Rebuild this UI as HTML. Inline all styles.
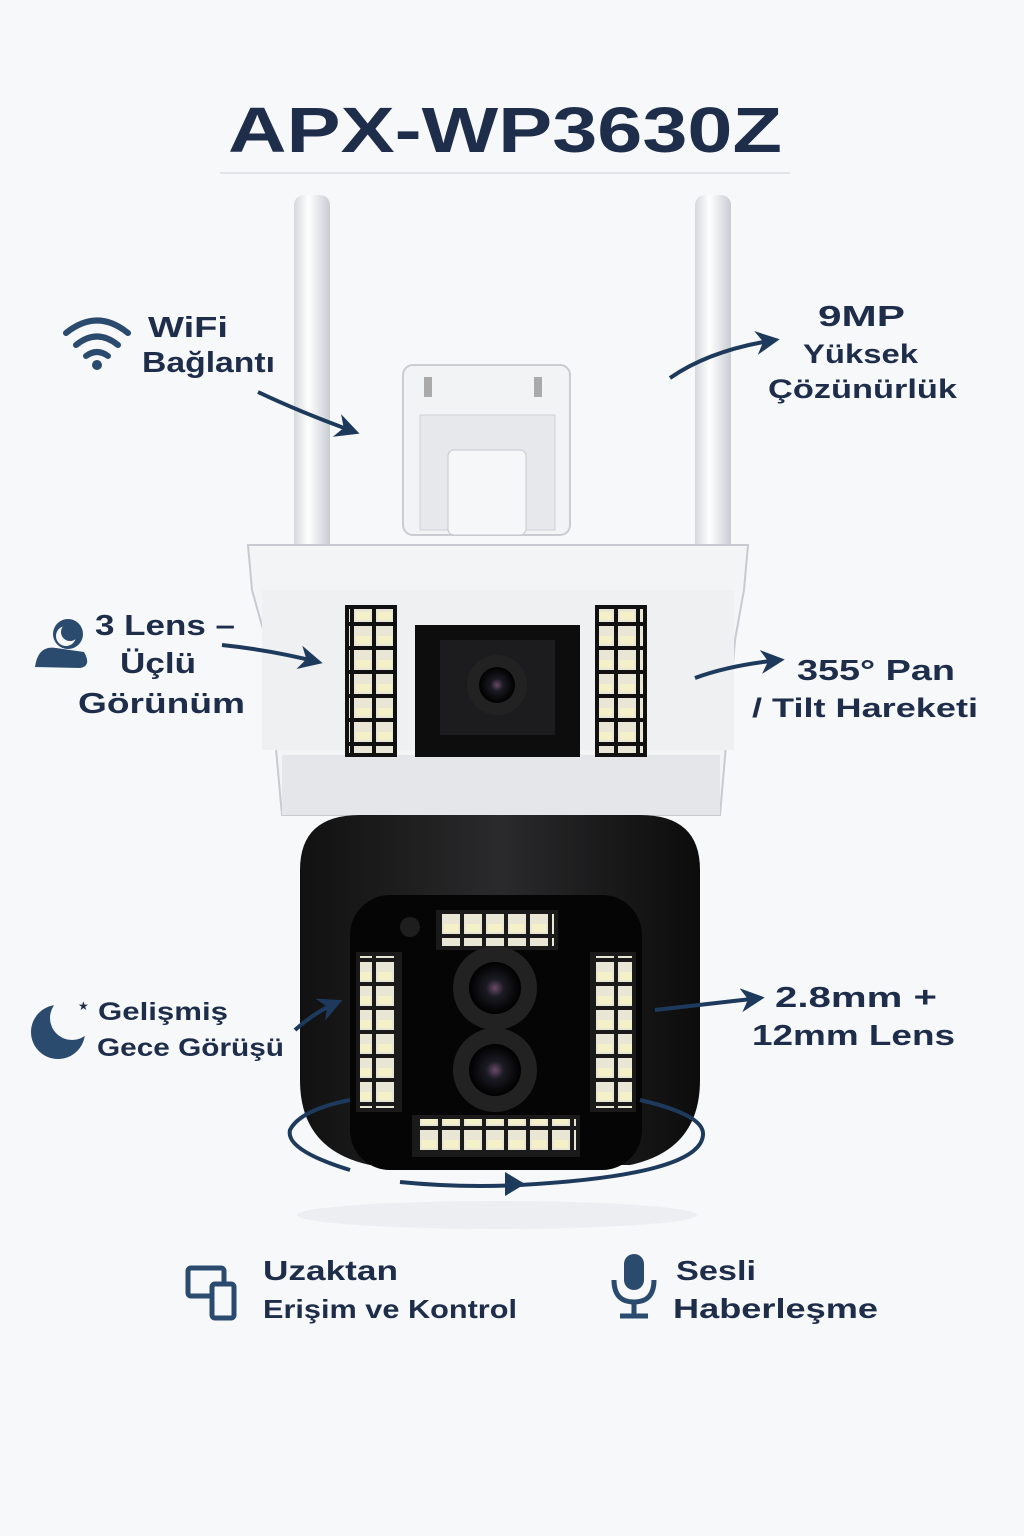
<!DOCTYPE html>
<html><head><meta charset="utf-8"><style>
html,body{margin:0;padding:0;background:#f7f8fa}
svg{display:block}
text{font-family:"Liberation Sans","DejaVu Sans",sans-serif;font-weight:bold;fill:#1d2d4a}
</style></head><body>
<svg width="1024" height="1536" viewBox="0 0 1024 1536" xmlns="http://www.w3.org/2000/svg">
<defs>
<linearGradient id="ant" x1="0" x2="1"><stop offset="0" stop-color="#d5d8dd"/><stop offset=".4" stop-color="#ffffff"/><stop offset="1" stop-color="#c8ccd2"/></linearGradient>
<linearGradient id="dome" x1="0" x2="1"><stop offset="0" stop-color="#111"/><stop offset=".5" stop-color="#2a2a2c"/><stop offset="1" stop-color="#0c0c0c"/></linearGradient>
<radialGradient id="lens"><stop offset="0" stop-color="#6a4a6a"/><stop offset=".35" stop-color="#1a1a22"/><stop offset="1" stop-color="#000"/></radialGradient>
<marker id="ah" viewBox="0 0 10 10" refX="8" refY="5" markerWidth="6" markerHeight="6" orient="auto"><path d="M0,0 L10,5 L0,10 L3,5z" fill="#1d3a5c"/></marker>
<pattern id="led" width="22" height="24" patternUnits="userSpaceOnUse"><rect x="2" y="2" width="18" height="20" fill="#e9e6d6"/><rect x="4" y="12" width="14" height="8" fill="#f4f0c8"/></pattern>
<mask id="moon"><rect width="1024" height="1536" fill="#fff"/><circle cx="72" cy="1018" r="22" fill="#000"/></mask>
</defs>
<rect width="1024" height="1536" fill="#f7f8fa"/>
<text x="228" y="152" font-size="64" textLength="554" lengthAdjust="spacingAndGlyphs">APX-WP3630Z</text>
<line x1="220" y1="173" x2="790" y2="173" stroke="#e2e4e8" stroke-width="2"/>

<rect x="294" y="195" width="36" height="380" rx="10" fill="url(#ant)"/>
<rect x="695" y="195" width="36" height="380" rx="10" fill="url(#ant)"/>
<rect x="403" y="365" width="167" height="170" rx="10" fill="#f2f3f5" stroke="#c9ccd1" stroke-width="2"/>
<rect x="420" y="415" width="135" height="115" fill="#e6e8eb" stroke="#cfd2d6"/>
<rect x="448" y="450" width="78" height="85" rx="6" fill="#f6f7f8" stroke="#c4c7cc"/>
<rect x="424" y="377" width="8" height="20" fill="#aaa"/><rect x="534" y="377" width="8" height="20" fill="#aaa"/>

<path d="M248 545 L748 545 L744 590 L735 640 L720 815 L282 815 L266 640 L252 590 Z" fill="#f3f4f6" stroke="#c7cad0" stroke-width="2"/>
<rect x="262" y="590" width="472" height="160" fill="#eef0f2"/>
<rect x="282" y="755" width="438" height="60" fill="#e4e6ea"/>
<rect x="345" y="605" width="52" height="152" fill="#111"/>
<rect x="349" y="609" width="44" height="144" fill="url(#led)"/>
<rect x="595" y="605" width="52" height="152" fill="#111"/>
<rect x="599" y="609" width="44" height="144" fill="url(#led)"/>
<rect x="415" y="625" width="165" height="132" fill="#0d0d0d"/>
<rect x="440" y="640" width="115" height="95" fill="#1c1c1f"/>
<circle cx="497" cy="685" r="30" fill="#222"/>
<circle cx="497" cy="685" r="18" fill="url(#lens)"/>

<path d="M300 870 Q300 815 360 815 L640 815 Q700 815 700 870 L700 1080 Q700 1150 630 1165 L370 1165 Q300 1150 300 1080 Z" fill="url(#dome)"/>
<rect x="350" y="895" width="292" height="275" rx="40" fill="#050505"/>
<rect x="436" y="910" width="122" height="40" fill="#1a1a1a"/><rect x="440" y="914" width="114" height="32" fill="url(#led)"/>
<rect x="356" y="952" width="46" height="160" fill="#1a1a1a"/><rect x="360" y="956" width="38" height="152" fill="url(#led)"/>
<rect x="590" y="952" width="46" height="160" fill="#1a1a1a"/><rect x="594" y="956" width="38" height="152" fill="url(#led)"/>
<rect x="412" y="1115" width="168" height="42" fill="#1a1a1a"/><rect x="416" y="1119" width="160" height="34" fill="url(#led)"/>
<circle cx="495" cy="988" r="42" fill="#222"/><circle cx="495" cy="988" r="26" fill="url(#lens)"/>
<circle cx="495" cy="1070" r="42" fill="#222"/><circle cx="495" cy="1070" r="26" fill="url(#lens)"/>
<circle cx="410" cy="927" r="10" fill="#1e1e1e"/>
<path d="M350 1170 Q285 1150 290 1130 Q300 1110 350 1100" fill="none" stroke="#1d3a5c" stroke-width="4"/>
<path d="M640 1100 Q705 1115 703 1135 Q700 1175 520 1185 Q460 1188 400 1182" fill="none" stroke="#1d3a5c" stroke-width="4"/>
<path d="M505 1172 L525 1184 L505 1196 Z" fill="#1d3a5c"/>
<ellipse cx="497" cy="1215" rx="200" ry="14" fill="#e6e8ec" opacity=".6"/>

<g fill="none" stroke="#2a4a6e" stroke-width="6" stroke-linecap="round">
<path d="M66 333 Q97 308 128 333"/><path d="M76 345 Q97 328 118 345"/><path d="M86 356 Q97 348 108 356"/></g>
<circle cx="97" cy="365" r="5" fill="#2a4a6e"/>
<text x="148" y="337" font-size="29" textLength="80" lengthAdjust="spacingAndGlyphs">WiFi</text>
<text x="142" y="372" font-size="29" textLength="133" lengthAdjust="spacingAndGlyphs">Bağlantı</text>
<path d="M258 392 Q300 412 355 432" fill="none" stroke="#1d3a5c" stroke-width="4" marker-end="url(#ah)"/>

<text x="818" y="326" font-size="29" textLength="87" lengthAdjust="spacingAndGlyphs">9MP</text>
<text x="803" y="363" font-size="27" textLength="115" lengthAdjust="spacingAndGlyphs">Yüksek</text>
<text x="768" y="398" font-size="27" textLength="189" lengthAdjust="spacingAndGlyphs">Çözünürlük</text>
<path d="M670 378 Q710 350 775 340" fill="none" stroke="#1d3a5c" stroke-width="4" marker-end="url(#ah)"/>

<circle cx="68" cy="634" r="15" fill="#2a4a6e"/><circle cx="66" cy="636" r="10" fill="#f7f8fa"/><circle cx="70" cy="632" r="9" fill="#2a4a6e"/>
<path d="M35 667 Q38 645 56 648 L84 652 Q92 666 80 668 Z" fill="#2a4a6e"/>
<text x="95" y="635" font-size="29" textLength="140" lengthAdjust="spacingAndGlyphs">3 Lens –</text>
<text x="120" y="673" font-size="29" textLength="76" lengthAdjust="spacingAndGlyphs">Üçlü</text>
<text x="78" y="713" font-size="29" textLength="167" lengthAdjust="spacingAndGlyphs">Görünüm</text>
<path d="M222 645 Q270 650 318 662" fill="none" stroke="#1d3a5c" stroke-width="4" marker-end="url(#ah)"/>

<path d="M695 678 Q730 665 780 660" fill="none" stroke="#1d3a5c" stroke-width="4" marker-end="url(#ah)"/>
<text x="797" y="680" font-size="29" textLength="158" lengthAdjust="spacingAndGlyphs">355° Pan</text>
<text x="752" y="717" font-size="27" textLength="226" lengthAdjust="spacingAndGlyphs">/ Tilt Hareketi</text>

<circle cx="58" cy="1032" r="27" fill="#2a4a6e" mask="url(#moon)"/>
<text x="78" y="1010" font-size="12" fill="#2a4a6e">★</text>
<text x="98" y="1020" font-size="25" textLength="130" lengthAdjust="spacingAndGlyphs">Gelişmiş</text>
<text x="97" y="1056" font-size="25" textLength="187" lengthAdjust="spacingAndGlyphs">Gece Görüşü</text>
<path d="M295 1030 Q315 1012 338 1002" fill="none" stroke="#1d3a5c" stroke-width="4" marker-end="url(#ah)"/>

<path d="M655 1010 Q700 1005 760 998" fill="none" stroke="#1d3a5c" stroke-width="4" marker-end="url(#ah)"/>
<text x="775" y="1007" font-size="29" textLength="162" lengthAdjust="spacingAndGlyphs">2.8mm +</text>
<text x="752" y="1045" font-size="29" textLength="203" lengthAdjust="spacingAndGlyphs">12mm Lens</text>

<rect x="188" y="1268" width="36" height="28" rx="3" fill="none" stroke="#2a4a6e" stroke-width="5"/>
<rect x="212" y="1284" width="22" height="34" rx="3" fill="#f7f8fa" stroke="#2a4a6e" stroke-width="5"/>
<text x="263" y="1280" font-size="28" textLength="135" lengthAdjust="spacingAndGlyphs">Uzaktan</text>
<text x="263" y="1318" font-size="26" textLength="254" lengthAdjust="spacingAndGlyphs">Erişim ve Kontrol</text>
<rect x="624" y="1254" width="20" height="36" rx="10" fill="#2a4a6e"/>
<path d="M614 1280 Q614 1302 634 1302 Q654 1302 654 1280" fill="none" stroke="#2a4a6e" stroke-width="5"/>
<line x1="634" y1="1302" x2="634" y2="1316" stroke="#2a4a6e" stroke-width="5"/><line x1="620" y1="1316" x2="648" y2="1316" stroke="#2a4a6e" stroke-width="5"/>
<text x="676" y="1280" font-size="28" textLength="80" lengthAdjust="spacingAndGlyphs">Sesli</text>
<text x="673" y="1318" font-size="28" textLength="205" lengthAdjust="spacingAndGlyphs">Haberleşme</text>
</svg>
</body></html>
